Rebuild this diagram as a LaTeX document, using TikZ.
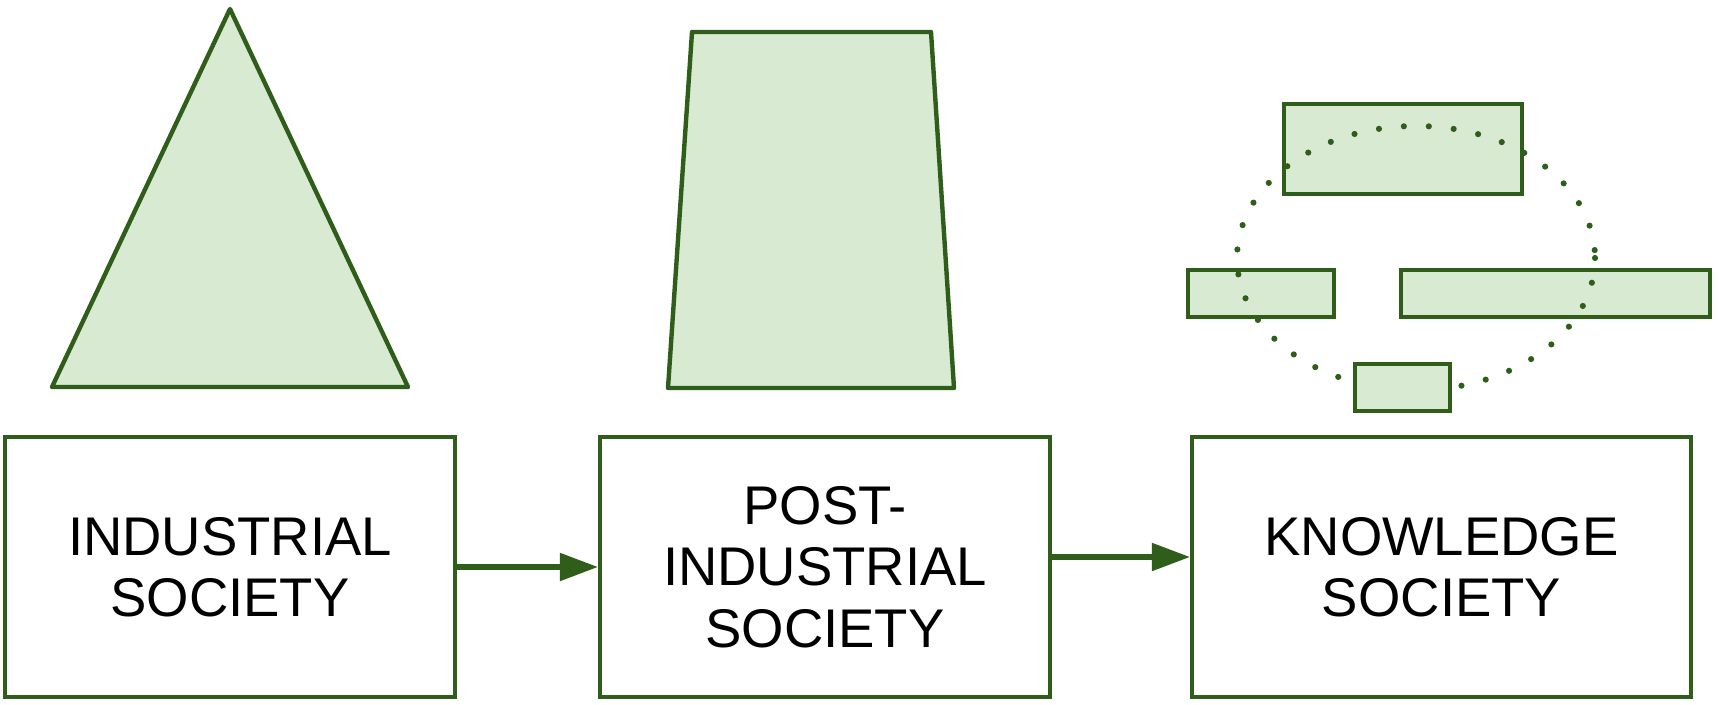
\documentclass[tikz,border=0pt]{standalone}
\usepackage{fontspec}
\setmainfont{Liberation Sans}
\usetikzlibrary{positioning,arrows.meta}

\definecolor{dkgreen}{RGB}{47,94,26}
\definecolor{ltgreen}{RGB}{217,234,211}

\begin{document}
\begin{tikzpicture}[
  x=0.02cm, y=-0.02cm,
  stage/.style={rectangle, draw=dkgreen, line width=2.4pt, inner sep=0pt,
    minimum height=5.2cm, align=center, font=\fontsize{31}{35}\selectfont},
  shapefill/.style={draw=dkgreen, fill=ltgreen, line width=2.5pt, line join=round},
  blockfill/.style={draw=dkgreen, fill=ltgreen, line width=2.7pt},
  flow/.style={draw=dkgreen, line width=2.9pt, -{Triangle[length=7.6mm, width=5.4mm]}},
  orbit/.style={draw=dkgreen, line width=3.5pt, line cap=round, dash pattern=on 0pt off 0.5cm}
]
\useasboundingbox (0,0) rectangle (1719,705);

% top shapes
\draw[shapefill] (230,9) -- (408,387) -- (52,387) -- cycle;
\draw[shapefill] (692,32) -- (931,32) -- (954,388) -- (668,388) -- cycle;

% knowledge blocks
\draw[blockfill] (1284,104) rectangle (1522,194);
\draw[blockfill] (1188,270) rectangle (1334,317);
\draw[blockfill] (1401,270) rectangle (1710,317);
\draw[orbit] (1416,258) ellipse [x radius=179, y radius=132];
\draw[blockfill] (1355,364) rectangle (1450,411);

% stages
\node[stage, minimum width=9cm] (ind) at (230,567) {INDUSTRIAL\\SOCIETY};
\node[stage, minimum width=9cm] (post) at (825,567) {POST-\\INDUSTRIAL\\SOCIETY};
\node[stage, minimum width=9.98cm] (know) at (1441.5,567) {KNOWLEDGE\\SOCIETY};

\draw[flow] (ind.east) -- (post.west);
\draw[flow] ([yshift=0.2cm]post.east) -- ([yshift=0.2cm]know.west);

\end{tikzpicture}
\end{document}
